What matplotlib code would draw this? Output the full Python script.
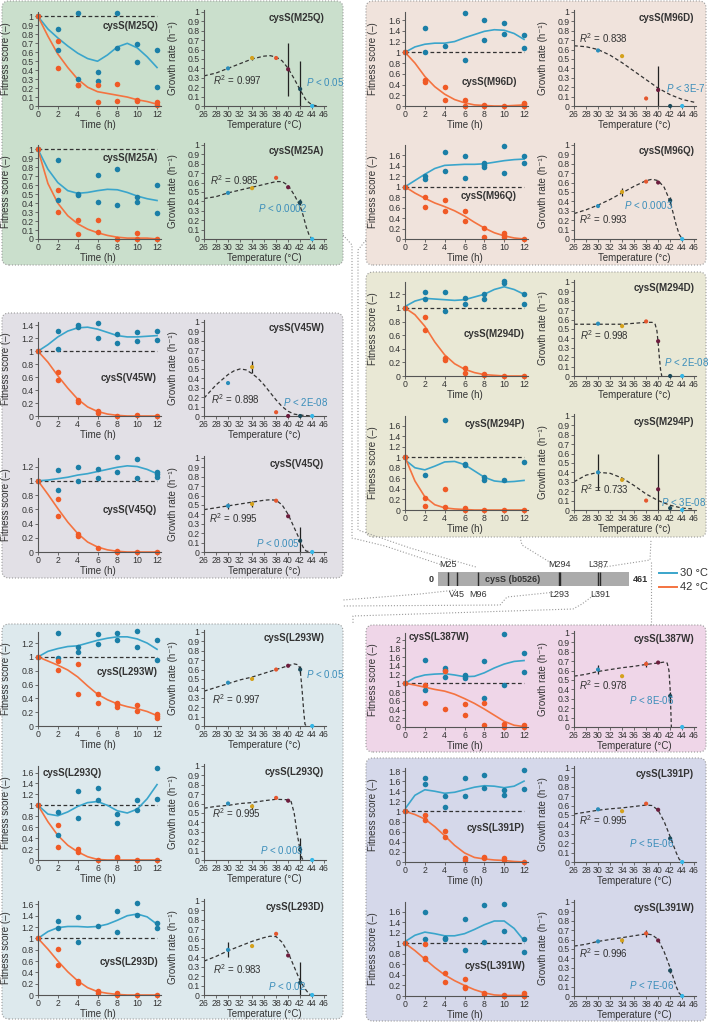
import matplotlib.pyplot as plt
from matplotlib.patches import FancyBboxPatch
from matplotlib.lines import Line2D

plt.rcParams['font.family'] = ['Liberation Sans', 'DejaVu Sans']
plt.rcParams['mathtext.fontset'] = 'custom'
plt.rcParams['mathtext.rm'] = 'Liberation Sans'
plt.rcParams['mathtext.it'] = 'Liberation Sans:italic'

W, H = 709, 1022

HOURS = list(range(13))
TEMPS = [30, 34, 38, 40, 42, 44]

# ---- cysS(M25Q)
M25Q_T30 = [0, 2, 2, 4, 4, 6, 6, 8, 8, 10, 10, 12, 12]
M25Q_F30 = [1.0, 0.86, 0.62, 1.04, 0.30, 0.38, 0.28, 1.04, 0.65, 0.69, 0.49, 0.62, 0.21]
M25Q_T42 = [0, 2, 2, 4, 4, 6, 6, 8, 8, 10, 10, 12, 12]
M25Q_F42 = [1.0, 0.73, 0.43, 0.24, 0.23, 0.23, 0.05, 0.25, 0.06, 0.07, 0.06, 0.05, 0.01]
M25Q_C30 = [1.0, 0.86, 0.76, 0.67, 0.59, 0.53, 0.50, 0.57, 0.66, 0.70, 0.65, 0.55, 0.43]
M25Q_C42 = [1.0, 0.78, 0.58, 0.43, 0.30, 0.21, 0.16, 0.14, 0.12, 0.10, 0.07, 0.05, 0.02]
M25Q_GR = [0.40, 0.51, 0.51, 0.39, 0.18, 0.0]
M25Q_ERR = [0, 0.02, 0, 0.28, 0.30, 0]
M25Q_FIT_T = [26, 28, 30, 32, 34, 36, 37, 38, 39, 40, 41, 42, 43, 44, 45]
M25Q_FIT = [0.32, 0.35, 0.40, 0.45, 0.50, 0.53, 0.535, 0.52, 0.48, 0.40, 0.29, 0.17, 0.06, 0.01, 0.0]

# ---- cysS(M25A)
M25A_T30 = [0, 2, 2, 4, 4, 6, 6, 8, 8, 10, 10, 12, 12]
M25A_F30 = [1.0, 0.88, 0.44, 0.50, 0.49, 0.71, 0.41, 0.78, 0.38, 0.47, 0.41, 0.60, 0.29]
M25A_T42 = [0, 2, 2, 4, 4, 6, 6, 8, 10, 10, 12]
M25A_F42 = [1.0, 0.55, 0.30, 0.21, 0.06, 0.21, 0.08, 0.0, 0.07, 0.0, 0.0]
M25A_C30 = [1.0, 0.78, 0.63, 0.54, 0.51, 0.52, 0.54, 0.555, 0.55, 0.52, 0.48, 0.45, 0.43]
M25A_C42 = [1.0, 0.62, 0.40, 0.26, 0.17, 0.11, 0.07, 0.04, 0.02, 0.01, 0.01, 0.01, 0.0]
M25A_GR = [0.49, 0.54, 0.65, 0.55, 0.39, 0.0]
M25A_ERR = [0, 0, 0, 0, 0.03, 0]
M25A_FIT_T = [26, 28, 30, 32, 34, 36, 38, 39, 40, 41, 42, 42.5, 43, 43.5, 44]
M25A_FIT = [0.43, 0.45, 0.49, 0.52, 0.55, 0.58, 0.61, 0.61, 0.57, 0.47, 0.35, 0.25, 0.13, 0.04, 0.0]

# ---- cysS(M96D)
M96D_T30 = [0, 2, 2, 4, 6, 6, 8, 8, 10, 10, 12, 12]
M96D_F30 = [1.0, 1.46, 1.0, 1.11, 1.73, 0.86, 1.60, 1.22, 1.54, 1.34, 1.32, 1.08]
M96D_T42 = [0, 2, 2, 4, 4, 6, 6, 8, 8, 10, 12, 12, 12]
M96D_F42 = [1.0, 0.49, 0.44, 0.35, 0.12, 0.12, 0.0, 0.0, 0.01, 0.0, 0.06, 0.03, 0.0]
M96D_C30 = [1.0, 1.10, 1.15, 1.17, 1.17, 1.20, 1.27, 1.33, 1.39, 1.42, 1.41, 1.35, 1.24]
M96D_C42 = [1.0, 0.80, 0.55, 0.36, 0.22, 0.12, 0.06, 0.02, 0.01, 0.0, 0.0, 0.01, 0.02]
M96D_GR = [0.59, 0.53, 0.08, 0.17, 0.0, 0.0]
M96D_ERR = [0, 0, 0, 0.26, 0, 0]
M96D_FIT_T = [26, 28, 30, 32, 34, 36, 38, 40, 42, 44, 46]
M96D_FIT = [0.64, 0.63, 0.60, 0.54, 0.46, 0.37, 0.28, 0.19, 0.12, 0.07, 0.04]

# ---- cysS(M96Q)
M96Q_T30 = [0, 2, 2, 4, 4, 6, 6, 8, 8, 8, 10, 10, 12, 12]
M96Q_F30 = [1.0, 1.21, 1.15, 1.66, 1.30, 1.59, 1.16, 1.46, 1.41, 1.38, 1.78, 1.27, 1.58, 1.46]
M96Q_T42 = [0, 2, 2, 4, 4, 6, 6, 8, 8, 10, 10, 10, 12]
M96Q_F42 = [1.0, 0.80, 0.62, 0.75, 0.53, 0.53, 0.35, 0.22, 0.04, 0.11, 0.07, 0.03, 0.0]
M96Q_C30 = [1.0, 1.12, 1.24, 1.35, 1.41, 1.42, 1.43, 1.43, 1.44, 1.47, 1.50, 1.52, 1.53]
M96Q_C42 = [1.0, 0.88, 0.78, 0.69, 0.62, 0.54, 0.44, 0.32, 0.21, 0.12, 0.06, 0.02, 0.0]
M96Q_GR = [0.35, 0.50, 0.61, 0.60, 0.41, 0.0]
M96Q_ERR = [0, 0.04, 0, 0, 0.04, 0]
M96Q_FIT_T = [26, 28, 30, 32, 34, 36, 38, 39, 40, 41, 42, 43, 43.5, 44]
M96Q_FIT = [0.27, 0.31, 0.36, 0.42, 0.49, 0.56, 0.62, 0.635, 0.62, 0.55, 0.40, 0.15, 0.05, 0.0]

# ---- cysS(M294D)
M294D_T30 = [0, 2, 2, 4, 4, 6, 6, 8, 8, 10, 10, 12, 12]
M294D_F30 = [1.0, 1.23, 1.13, 1.24, 0.95, 1.15, 1.05, 1.21, 1.13, 1.39, 1.37, 1.21, 1.06]
M294D_T42 = [0, 2, 2, 4, 4, 6, 6, 8, 8, 10, 12]
M294D_F42 = [1.0, 0.86, 0.68, 0.27, 0.24, 0.12, 0.04, 0.035, 0.01, 0.0, 0.0]
M294D_C30 = [1.02, 1.10, 1.14, 1.13, 1.12, 1.11, 1.12, 1.16, 1.20, 1.27, 1.31, 1.27, 1.20]
M294D_C42 = [1.0, 0.90, 0.73, 0.50, 0.31, 0.18, 0.10, 0.05, 0.02, 0.01, 0.0, 0.0, 0.0]
M294D_GR = [0.556, 0.53, 0.58, 0.37, 0.0, 0.0]
M294D_ERR = [0, 0, 0, 0, 0, 0]
M294D_FIT_T = [26, 30, 34, 36, 38, 39, 39.5, 39.8, 40, 40.2, 40.4, 40.6]
M294D_FIT = [0.55, 0.55, 0.55, 0.56, 0.57, 0.57, 0.55, 0.48, 0.35, 0.20, 0.07, 0.0]

# ---- cysS(M294P)
M294P_T30 = [0, 2, 4, 6, 6, 8, 8, 10, 12]
M294P_F30 = [1.0, 0.66, 1.70, 0.88, 0.86, 0.62, 0.57, 0.56, 0.90]
M294P_T42 = [0, 2, 2, 4, 4, 6, 6, 8, 10, 12]
M294P_F42 = [1.0, 0.22, 0.08, 0.40, 0.05, 0.04, 0.0, 0.0, 0.0, 0.0]
M294P_C30 = [0.95, 0.80, 0.76, 0.83, 0.91, 0.92, 0.86, 0.74, 0.62, 0.55, 0.53, 0.54, 0.56]
M294P_C42 = [1.0, 0.55, 0.25, 0.10, 0.04, 0.02, 0.01, 0.0, 0.0, 0.0, 0.0, 0.0, 0.0]
M294P_GR = [0.40, 0.32, 0.10, 0.22, 0.02, 0.0]
M294P_ERR = [0.19, 0, 0, 0.37, 0, 0]
M294P_FIT_T = [26, 28, 30, 32, 34, 36, 38, 40, 42, 44, 46]
M294P_FIT = [0.30, 0.37, 0.40, 0.39, 0.34, 0.26, 0.17, 0.10, 0.05, 0.02, 0.01]

# ---- cysS(V45W)
V45W_T30 = [0, 2, 2, 4, 4, 6, 6, 8, 8, 10, 10, 12, 12]
V45W_F30 = [1.0, 1.31, 1.03, 1.40, 1.38, 1.44, 1.21, 1.26, 1.13, 1.29, 1.16, 1.31, 1.18]
V45W_T42 = [0, 2, 2, 4, 4, 6, 6, 8, 10, 12]
V45W_F42 = [1.0, 0.68, 0.56, 0.24, 0.21, 0.08, 0.05, 0.0, 0.02, 0.0]
V45W_C30 = [1.0, 1.10, 1.22, 1.31, 1.36, 1.37, 1.34, 1.29, 1.24, 1.22, 1.22, 1.23, 1.24]
V45W_C42 = [1.0, 0.83, 0.62, 0.43, 0.26, 0.14, 0.07, 0.03, 0.01, 0.0, 0.0, 0.0, 0.0]
V45W_GR = [0.35, 0.52, 0.04, 0.0, 0.0, 0.0]
V45W_ERR = [0, 0.06, 0, 0, 0, 0]
V45W_FIT_T = [26, 28, 30, 31, 32, 33, 34, 35, 36, 37, 38, 39, 40, 41, 42, 44]
V45W_FIT = [0.19, 0.33, 0.44, 0.48, 0.50, 0.49, 0.45, 0.40, 0.33, 0.25, 0.17, 0.10, 0.05, 0.02, 0.01, 0.0]

# ---- cysS(V45Q)
V45Q_T30 = [0, 2, 2, 4, 4, 6, 6, 8, 8, 10, 10, 12, 12, 12]
V45Q_F30 = [1.0, 1.15, 0.87, 1.19, 1.0, 1.17, 1.04, 1.34, 1.13, 1.31, 1.04, 1.12, 1.09, 1.05]
V45Q_T42 = [0, 2, 2, 4, 4, 6, 8, 8, 10, 12]
V45Q_F42 = [1.0, 0.74, 0.50, 0.25, 0.22, 0.05, 0.0, 0.01, 0.0, 0.0]
V45Q_C30 = [1.0, 1.01, 1.03, 1.05, 1.08, 1.10, 1.13, 1.16, 1.19, 1.21, 1.20, 1.16, 1.10]
V45Q_C42 = [1.0, 0.81, 0.61, 0.42, 0.26, 0.14, 0.07, 0.03, 0.01, 0.0, 0.0, 0.0, 0.0]
V45Q_GR = [0.49, 0.51, 0.545, 0.38, 0.12, 0.0]
V45Q_ERR = [0.03, 0.03, 0, 0, 0.15, 0]
V45Q_FIT_T = [26, 28, 30, 32, 34, 36, 37, 38, 39, 40, 41, 42, 42.5, 43, 44]
V45Q_FIT = [0.45, 0.47, 0.49, 0.51, 0.53, 0.55, 0.555, 0.55, 0.50, 0.40, 0.26, 0.12, 0.05, 0.01, 0.0]

# ---- cysS(L293W)
L293W_T30 = [0, 2, 2, 4, 4, 6, 6, 8, 8, 10, 10, 12, 12]
L293W_F30 = [1.0, 1.35, 0.98, 1.15, 1.07, 1.33, 1.18, 1.34, 1.25, 1.37, 1.15, 1.24, 0.96]
L293W_T42 = [0, 2, 2, 4, 4, 6, 6, 8, 8, 8, 10, 10, 12, 12, 12]
L293W_F42 = [1.0, 0.94, 0.81, 0.89, 0.46, 0.46, 0.33, 0.34, 0.32, 0.27, 0.30, 0.21, 0.18, 0.14, 0.12]
L293W_C30 = [1.0, 1.08, 1.12, 1.15, 1.16, 1.20, 1.24, 1.27, 1.29, 1.29, 1.26, 1.20, 1.11]
L293W_C42 = [1.0, 0.94, 0.88, 0.81, 0.71, 0.58, 0.46, 0.38, 0.32, 0.28, 0.25, 0.21, 0.15]
L293W_GR = [0.46, 0.50, 0.60, 0.64, 0.60, 0.0]
L293W_ERR = [0, 0, 0, 0, 0.04, 0]
L293W_FIT_T = [26, 28, 30, 32, 34, 36, 38, 40, 41, 41.7, 42, 42.3, 42.6, 42.8, 43]
L293W_FIT = [0.37, 0.41, 0.45, 0.49, 0.52, 0.56, 0.60, 0.64, 0.66, 0.65, 0.60, 0.40, 0.15, 0.02, 0.0]

# ---- cysS(L293Q)
L293Q_T30 = [0, 2, 2, 4, 4, 6, 6, 8, 8, 10, 10, 12, 12]
L293Q_F30 = [1.0, 0.88, 0.45, 1.26, 0.77, 1.31, 1.09, 0.85, 0.67, 1.09, 0.91, 1.69, 1.12]
L293Q_T42 = [0, 2, 2, 4, 4, 6, 8, 8, 10, 12]
L293Q_F42 = [1.0, 0.64, 0.24, 0.20, 0.14, 0.0, 0.06, 0.03, 0.0, 0.0]
L293Q_C30 = [1.0, 0.84, 0.81, 0.88, 0.98, 1.05, 1.07, 1.0, 0.90, 0.86, 0.93, 1.12, 1.38]
L293Q_C42 = [1.0, 0.70, 0.45, 0.27, 0.15, 0.06, 0.01, 0.0, 0.0, 0.0, 0.0, 0.0, 0.0]
L293Q_GR = [0.60, 0.57, 0.66, 0.63, 0.11, 0.0]
L293Q_ERR = [0, 0.03, 0, 0, 0.12, 0]
L293Q_FIT_T = [26, 28, 30, 32, 34, 36, 38, 40, 40.5, 41, 41.5, 42, 42.3, 42.5]
L293Q_FIT = [0.55, 0.57, 0.58, 0.60, 0.61, 0.63, 0.645, 0.64, 0.62, 0.50, 0.28, 0.10, 0.02, 0.0]

# ---- cysS(L293D)
L293D_T30 = [0, 2, 2, 4, 4, 6, 8, 8, 10, 10, 12, 12]
L293D_F30 = [1.0, 1.31, 1.19, 1.37, 0.94, 1.21, 1.49, 1.12, 1.63, 1.41, 1.27, 1.19]
L293D_T42 = [0, 2, 2, 4, 4, 6, 6, 8, 8, 10, 12]
L293D_F42 = [1.0, 0.81, 0.53, 0.24, 0.21, 0.07, 0.03, 0.04, 0.0, 0.0, 0.0]
L293D_C30 = [1.0, 1.12, 1.19, 1.21, 1.21, 1.20, 1.21, 1.25, 1.32, 1.40, 1.43, 1.38, 1.25]
L293D_C42 = [1.0, 0.81, 0.60, 0.41, 0.25, 0.13, 0.06, 0.03, 0.01, 0.0, 0.0, 0.0, 0.0]
L293D_GR = [0.48, 0.52, 0.65, 0.42, 0.13, 0.0]
L293D_ERR = [0.08, 0, 0, 0, 0.22, 0]
L293D_FIT_T = [26, 28, 30, 32, 34, 36, 37, 38, 39, 40, 41, 42, 43, 43.5, 44]
L293D_FIT = [0.36, 0.41, 0.47, 0.52, 0.57, 0.61, 0.625, 0.62, 0.56, 0.45, 0.30, 0.15, 0.05, 0.01, 0.0]

# ---- cysS(L387W)
L387W_T30 = [0, 2, 2, 4, 4, 4, 6, 6, 6, 8, 8, 10, 10, 12, 12]
L387W_F30 = [1.0, 1.54, 0.84, 1.35, 1.31, 1.14, 1.20, 1.16, 1.13, 1.51, 0.66, 2.13, 0.95, 1.69, 1.26]
L387W_T42 = [0, 2, 2, 4, 4, 6, 6, 8, 8, 10, 10, 12, 12]
L387W_F42 = [1.0, 0.95, 0.55, 1.27, 0.42, 0.52, 0.28, 0.55, 0.05, 0.06, 0.0, 0.05, 0.0]
L387W_C30 = [1.0, 1.13, 1.19, 1.21, 1.22, 1.19, 1.15, 1.16, 1.24, 1.35, 1.44, 1.50, 1.52]
L387W_C42 = [1.0, 0.96, 0.91, 0.86, 0.82, 0.75, 0.65, 0.54, 0.41, 0.27, 0.13, 0.04, 0.01]
L387W_GR = [0.61, 0.54, 0.67, 0.685, 0.33, 0.0]
L387W_ERR = [0.05, 0, 0.03, 0, 0.04, 0]
L387W_FIT_T = [26, 28, 30, 32, 34, 36, 38, 40, 41, 41.5, 41.8, 42, 42.1, 42.2]
L387W_FIT = [0.54, 0.56, 0.59, 0.61, 0.63, 0.645, 0.665, 0.68, 0.69, 0.68, 0.60, 0.40, 0.20, 0.0]

# ---- cysS(L391P)
L391P_T30 = [0, 2, 2, 4, 4, 6, 6, 8, 8, 10, 10, 12, 12]
L391P_F30 = [1.0, 1.67, 1.55, 1.31, 1.09, 1.67, 1.30, 1.72, 1.46, 1.42, 1.32, 1.83, 1.44]
L391P_T42 = [0, 2, 2, 4, 4, 6, 6, 8, 8, 10, 10, 12]
L391P_F42 = [1.0, 0.93, 0.84, 0.62, 0.49, 0.07, 0.03, 0.10, 0.08, 0.08, 0.03, 0.0]
L391P_C30 = [1.05, 1.32, 1.43, 1.40, 1.36, 1.38, 1.43, 1.48, 1.51, 1.50, 1.47, 1.50, 1.60]
L391P_C42 = [1.0, 0.94, 0.85, 0.70, 0.52, 0.33, 0.18, 0.09, 0.06, 0.04, 0.03, 0.01, 0.0]
L391P_GR = [0.56, 0.54, 0.62, 0.555, 0.25, 0.0]
L391P_ERR = [0, 0, 0, 0, 0, 0]
L391P_FIT_T = [26, 28, 30, 32, 34, 36, 38, 39, 40, 41, 42, 43, 43.5, 44]
L391P_FIT = [0.51, 0.53, 0.55, 0.565, 0.575, 0.59, 0.605, 0.60, 0.55, 0.43, 0.27, 0.10, 0.03, 0.0]

# ---- cysS(L391W)
L391W_T30 = [0, 2, 2, 4, 4, 6, 6, 8, 8, 10, 10, 12, 12]
L391W_F30 = [1.0, 1.59, 1.07, 1.09, 1.07, 1.46, 0.87, 1.73, 1.02, 1.75, 1.24, 1.07, 0.84]
L391W_T42 = [0, 2, 2, 2, 4, 4, 6, 6, 6, 8, 8, 10, 10, 12, 12, 12]
L391W_F42 = [1.0, 0.98, 0.72, 0.70, 0.43, 0.27, 0.33, 0.17, 0.16, 0.06, 0.04, 0.02, 0.0, 0.05, 0.02, 0.0]
L391W_C30 = [1.03, 1.15, 1.21, 1.18, 1.14, 1.14, 1.18, 1.26, 1.35, 1.42, 1.42, 1.28, 1.05]
L391W_C42 = [1.0, 0.86, 0.70, 0.54, 0.40, 0.29, 0.20, 0.12, 0.06, 0.02, 0.01, 0.01, 0.01]
L391W_GR = [0.58, 0.59, 0.665, 0.59, 0.27, 0.0]
L391W_ERR = [0, 0.03, 0.04, 0, 0.03, 0]
L391W_FIT_T = [26, 28, 30, 32, 34, 36, 38, 39, 40, 41, 42, 43, 43.5, 44]
L391W_FIT = [0.53, 0.55, 0.58, 0.60, 0.62, 0.64, 0.66, 0.65, 0.60, 0.47, 0.30, 0.10, 0.03, 0.0]

# gene map
GENE_LEN = 461
SITES_TOP = ['M25', 'M294', 'L387']
SITES_TOP_POS = [25, 294, 387]
SITES_BOT = ['V45', 'M96', 'L293', 'L391']
SITES_BOT_POS = [45, 96, 293, 391]

BLUE_PT = '#1b7fa7'
BLUE_LN = '#3aa5cb'
ORANGE_PT = '#f05a26'
ORANGE_LN = '#f47340'
TEMP_COLORS = ['#2a8dba', '#d4a11c', '#e4572e', '#6c1d3d', '#1c4b5b', '#36b6e6']
PCOL = '#3a8dba'
INK = '#333333'

fig = plt.figure(figsize=(W / 100, H / 100), dpi=100)


def px_axes(x, y, w, h):
    return fig.add_axes([x / W, 1 - (y + h) / H, w / W, h / H])


def px(pts):
    return [p[0] / 100 for p in pts], [(H - p[1]) / 100 for p in pts]


def style(ax):
    ax.set_facecolor('none')
    for s in ('top', 'right'):
        ax.spines[s].set_visible(False)
    for s in ('left', 'bottom'):
        ax.spines[s].set_color('#555555')
        ax.spines[s].set_linewidth(0.8)
    ax.tick_params(length=2, width=0.6, labelsize=6.3, pad=1.2,
                   color='#555555', labelcolor='#333333')


# background boxes
BOXES = [(2, 1, 341, 264, '#cadfcc'), (366, 1, 340, 264, '#f0e3dc'),
         (366, 272, 340, 265, '#e9e8d5'), (2, 313, 341, 265, '#e2e0e6'),
         (2, 624, 341, 395, '#dde9ed'), (366, 625, 340, 127, '#efd6e8'),
         (366, 758, 340, 263, '#d5d8ea')]
for bx, by, bw, bh, bc in BOXES:
    patch = FancyBboxPatch((bx / 100, (H - by - bh) / 100), bw / 100, bh / 100,
                           boxstyle='round,pad=0,rounding_size=0.07',
                           transform=fig.dpi_scale_trans, facecolor=bc,
                           edgecolor='#9a9a9a', linestyle=':', linewidth=0.8, zorder=-2)
    fig.add_artist(patch)

# dotted connectors between boxes and the gene map
LINKS = [
    [(343, 235), (352, 245), (352, 538), (385, 546), (445, 566)],
    [(366, 240), (358, 250), (358, 530), (410, 548), (476, 567)],
    [(520, 537), (522, 545), (556, 566)],
    [(598, 568), (650, 560), (651, 540)],
    [(651, 562), (651, 625)],
    [(456, 590), (420, 594), (343, 600)],
    [(556, 592), (507, 597), (500, 605), (343, 606)],
    [(598, 592), (582, 604), (573, 609), (353, 616), (353, 624)],
]
for pts in LINKS:
    xs, ys = px(pts)
    fig.add_artist(Line2D(xs, ys, transform=fig.dpi_scale_trans, color='#9a9a9a',
                          linestyle=':', linewidth=0.8, zorder=-1))

# gene map
gax = px_axes(438, 572, 191, 14)
gax.set_xlim(0, GENE_LEN)
gax.set_ylim(0, 1)
gax.set_facecolor('#ababab')
for s in gax.spines.values():
    s.set_visible(False)
gax.set_xticks([])
gax.set_yticks([])
gax.vlines(SITES_TOP_POS + SITES_BOT_POS, 0, 1, color='#2a2a2a', lw=1.0)
for name, pos in zip(SITES_TOP, SITES_TOP_POS):
    gax.text(pos, 1.25, name, ha='center', va='bottom', fontsize=6.5, color=INK)
for name, pos in zip(SITES_BOT, SITES_BOT_POS):
    gax.text(pos, -0.3, name, ha='center', va='top', fontsize=6.5, color=INK)
gax.text(-10, 0.5, '0', ha='right', va='center', fontsize=6.5, fontweight='bold', color=INK)
gax.text(GENE_LEN + 10, 0.5, str(GENE_LEN), ha='left', va='center', fontsize=6.5,
         fontweight='bold', color=INK)
gax.text(181, 0.5, 'cysS (b0526)', ha='center', va='center', fontsize=6.5,
         fontweight='bold', color=INK)

# legend
lx, ly = px([(659, 573), (677, 573)])
fig.add_artist(Line2D(lx, ly, transform=fig.dpi_scale_trans, color=BLUE_LN, lw=1.4))
lx, ly = px([(659, 587), (677, 587)])
fig.add_artist(Line2D(lx, ly, transform=fig.dpi_scale_trans, color=ORANGE_LN, lw=1.4))
fig.text(680 / W, 1 - 573 / H, '30 °C', fontsize=8, va='center', color=INK)
fig.text(680 / W, 1 - 587 / H, '42 °C', fontsize=8, va='center', color=INK)

PANELS = [
    dict(name='M25Q', col='L', y=106, ymax=1.05, ystep=0.1, ytop=1.0,
         t30=M25Q_T30, f30=M25Q_F30, t42=M25Q_T42, f42=M25Q_F42, c30=M25Q_C30, c42=M25Q_C42,
         gr=M25Q_GR, err=M25Q_ERR, fit_t=M25Q_FIT_T, fit=M25Q_FIT,
         title=(12.1, 0.89, 'right'), tunit='C', r2='0.997', r2pos=(27.5, 0.27),
         p='0.05', ppos=(43.0, 0.25)),
    dict(name='M25A', col='L', y=239, ymax=1.05, ystep=0.1, ytop=1.0,
         t30=M25A_T30, f30=M25A_F30, t42=M25A_T42, f42=M25A_F42, c30=M25A_C30, c42=M25A_C42,
         gr=M25A_GR, err=M25A_ERR, fit_t=M25A_FIT_T, fit=M25A_FIT,
         title=(12.1, 0.91, 'right'), tunit='C', r2='0.985', r2pos=(27.0, 0.63),
         p='0.0002', ppos=(35.0, 0.33)),
    dict(name='M96D', col='R', y=106, ymax=1.75, ystep=0.2, ytop=1.6,
         t30=M96D_T30, f30=M96D_F30, t42=M96D_T42, f42=M96D_F42, c30=M96D_C30, c42=M96D_C42,
         gr=M96D_GR, err=M96D_ERR, fit_t=M96D_FIT_T, fit=M96D_FIT,
         title=(11.3, 0.44, 'right'), tunit='c', r2='0.838', r2pos=(26.8, 0.72),
         p='3E-7', ppos=(41.3, 0.19)),
    dict(name='M96Q', col='R', y=239, ymax=1.8, ystep=0.2, ytop=1.6,
         t30=M96Q_T30, f30=M96Q_F30, t42=M96Q_T42, f42=M96Q_F42, c30=M96Q_C30, c42=M96Q_C42,
         gr=M96Q_GR, err=M96Q_ERR, fit_t=M96Q_FIT_T, fit=M96Q_FIT,
         title=(11.3, 0.83, 'right'), tunit='c', r2='0.993', r2pos=(26.8, 0.21),
         p='0.0003', ppos=(34.3, 0.36)),
    dict(name='M294D', col='R', y=376, ymax=1.38, ystep=0.2, ytop=1.2,
         t30=M294D_T30, f30=M294D_F30, t42=M294D_T42, f42=M294D_F42, c30=M294D_C30, c42=M294D_C42,
         gr=M294D_GR, err=M294D_ERR, fit_t=M294D_FIT_T, fit=M294D_FIT,
         title=(12.1, 0.62, 'right'), tunit='c', r2='0.998', r2pos=(27.0, 0.43),
         p='2E-08', ppos=(41.0, 0.15)),
    dict(name='M294P', col='R', y=510, ymax=1.78, ystep=0.2, ytop=1.6,
         t30=M294P_T30, f30=M294P_F30, t42=M294P_T42, f42=M294P_F42, c30=M294P_C30, c42=M294P_C42,
         gr=M294P_GR, err=M294P_ERR, fit_t=M294P_FIT_T, fit=M294P_FIT,
         title=(12.1, 1.62, 'right'), tunit='c', r2='0.733', r2pos=(27.0, 0.22),
         p='3E-08', ppos=(40.5, 0.08)),
    dict(name='V45W', col='L', y=416, ymax=1.45, ystep=0.2, ytop=1.4,
         t30=V45W_T30, f30=V45W_F30, t42=V45W_T42, f42=V45W_F42, c30=V45W_C30, c42=V45W_C42,
         gr=V45W_GR, err=V45W_ERR, fit_t=V45W_FIT_T, fit=V45W_FIT,
         title=(12.0, 0.58, 'right'), tunit='c', r2='0.898', r2pos=(27.1, 0.18),
         p='2E-08', ppos=(39.1, 0.145)),
    dict(name='V45Q', col='L', y=552, ymax=1.32, ystep=0.2, ytop=1.2,
         t30=V45Q_T30, f30=V45Q_F30, t42=V45Q_T42, f42=V45Q_F42, c30=V45Q_C30, c42=V45Q_C42,
         gr=V45Q_GR, err=V45Q_ERR, fit_t=V45Q_FIT_T, fit=V45Q_FIT,
         title=(12.0, 0.59, 'right'), tunit='c', r2='0.995', r2pos=(26.9, 0.36),
         p='0.005', ppos=(34.6, 0.10)),
    dict(name='L293W', col='L', y=726, ymax=1.36, ystep=0.2, ytop=1.2,
         t30=L293W_T30, f30=L293W_F30, t42=L293W_T42, f42=L293W_F42, c30=L293W_C30, c42=L293W_C42,
         gr=L293W_GR, err=L293W_ERR, fit_t=L293W_FIT_T, fit=L293W_FIT,
         title=(12.1, 0.78, 'right'), tunit='c', r2='0.997', r2pos=(27.4, 0.29),
         p='0.05', ppos=(43.0, 0.55)),
    dict(name='L293Q', col='L', y=860, ymax=1.72, ystep=0.2, ytop=1.6,
         t30=L293Q_T30, f30=L293Q_F30, t42=L293Q_T42, f42=L293Q_F42, c30=L293Q_C30, c42=L293Q_C42,
         gr=L293Q_GR, err=L293Q_ERR, fit_t=L293Q_FIT_T, fit=L293Q_FIT,
         title=(0.5, 1.6, 'left'), tunit='C', r2='0.995', r2pos=(27.3, 0.50),
         p='0.003', ppos=(35.3, 0.11)),
    dict(name='L293D', col='L', y=995, ymax=1.66, ystep=0.2, ytop=1.6,
         t30=L293D_T30, f30=L293D_F30, t42=L293D_T42, f42=L293D_F42, c30=L293D_C30, c42=L293D_C42,
         gr=L293D_GR, err=L293D_ERR, fit_t=L293D_FIT_T, fit=L293D_FIT,
         title=(12.1, 0.58, 'right'), tunit='C', r2='0.983', r2pos=(27.5, 0.28),
         p='0.02', ppos=(36.7, 0.10)),
    dict(name='L387W', col='R', y=727, ymax=2.15, ystep=0.2, ytop=2.0,
         t30=L387W_T30, f30=L387W_F30, t42=L387W_T42, f42=L387W_F42, c30=L387W_C30, c42=L387W_C42,
         gr=L387W_GR, err=L387W_ERR, fit_t=L387W_FIT_T, fit=L387W_FIT,
         title=(0.4, 2.05, 'left'), tunit='C', r2='0.978', r2pos=(26.8, 0.44),
         p='8E-06', ppos=(35.2, 0.29)),
    dict(name='L391P', col='R', y=862, ymax=1.86, ystep=0.2, ytop=1.8,
         t30=L391P_T30, f30=L391P_F30, t42=L391P_T42, f42=L391P_F42, c30=L391P_C30, c42=L391P_C42,
         gr=L391P_GR, err=L391P_ERR, fit_t=L391P_FIT_T, fit=L391P_FIT,
         title=(12.1, 0.68, 'right'), tunit='C', r2='0.995', r2pos=(26.8, 0.44),
         p='5E-06', ppos=(35.2, 0.20)),
    dict(name='L391W', col='R', y=996, ymax=1.78, ystep=0.2, ytop=1.6,
         t30=L391W_T30, f30=L391W_F30, t42=L391W_T42, f42=L391W_F42, c30=L391W_C30, c42=L391W_C42,
         gr=L391W_GR, err=L391W_ERR, fit_t=L391W_FIT_T, fit=L391W_FIT,
         title=(12.1, 0.56, 'right'), tunit='C', r2='0.996', r2pos=(26.8, 0.46),
         p='7E-06', ppos=(35.2, 0.12)),
]

for p in PANELS:
    fx = 38 if p['col'] == 'L' else 405
    gx = 204 if p['col'] == 'L' else 574
    label = 'cysS(%s)' % p['name']

    # fitness score over time
    ax = px_axes(fx, p['y'] - 94, 123, 94)
    style(ax)
    ax.plot([0, 12], [1, 1], color=INK, lw=0.9, ls=(0, (3, 2)))
    ax.plot(HOURS, p['c30'], color=BLUE_LN, lw=1.2)
    ax.plot(HOURS, p['c42'], color=ORANGE_LN, lw=1.2)
    ax.plot(p['t30'], p['f30'], 'o', color=BLUE_PT, ms=4, mew=0, clip_on=False)
    ax.plot(p['t42'], p['f42'], 'o', color=ORANGE_PT, ms=4, mew=0, clip_on=False)
    ax.set_xlim(0, 12.4)
    ax.set_ylim(0, p['ymax'])
    ax.set_xticks(range(0, 13, 2))
    n = int(round(p['ytop'] / p['ystep']))
    yt = [round(i * p['ystep'], 2) for i in range(n + 1)]
    ax.set_yticks(yt)
    ax.set_yticklabels(['%g' % v for v in yt])
    ax.set_xlabel('Time (h)', fontsize=7, color=INK)
    ax.xaxis.set_label_coords(6 / 12.4, -0.15)
    ax.set_ylabel('Fitness score (–)', fontsize=7, color=INK)
    ax.yaxis.set_label_coords(-0.22, 0.5)
    tx, ty, tha = p['title']
    ax.text(tx, ty, label, ha=tha, va='center', fontsize=7, fontweight='bold', color=INK)

    # growth rate vs temperature
    ax = px_axes(gx, p['y'] - 96, 122, 96)
    style(ax)
    ax.plot(p['fit_t'], p['fit'], color=INK, lw=0.9, ls=(0, (3, 2)))
    lo = [g - e for g, e in zip(p['gr'], p['err'])]
    hi = [g + e for g, e in zip(p['gr'], p['err'])]
    ax.vlines(TEMPS, lo, hi, color='#222222', lw=0.9)
    ax.scatter(TEMPS, p['gr'], s=9, c=TEMP_COLORS, linewidths=0, zorder=3, clip_on=False)
    ax.set_xlim(26, 46.3)
    ax.set_ylim(0, 1.02)
    ax.set_xticks(range(26, 47, 2))
    gy = [round(i * 0.1, 1) for i in range(11)]
    ax.set_yticks(gy)
    ax.set_yticklabels(['%g' % v for v in gy])
    ax.set_xlabel('Temperature (°%s)' % p['tunit'], fontsize=7, color=INK)
    ax.xaxis.set_label_coords(10 / 20.3, -0.15)
    ax.set_ylabel('Growth rate (h⁻¹)', fontsize=7, color=INK)
    ax.yaxis.set_label_coords(-0.21, 0.5)
    ax.text(46, 0.93, label, ha='right', va='center', fontsize=7, fontweight='bold', color=INK)
    ax.text(p['r2pos'][0], p['r2pos'][1], '$R^2$ = ' + p['r2'], ha='left', va='center',
            fontsize=7, color=INK)
    ax.text(p['ppos'][0], p['ppos'][1], '$P$ < ' + p['p'], ha='left', va='center',
            fontsize=7, color=PCOL)

fig.savefig('out.png', dpi=100)
